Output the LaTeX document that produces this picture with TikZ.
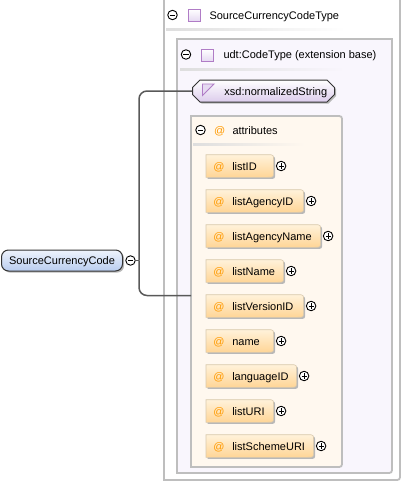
\documentclass[tikz,border=0pt]{standalone}
\usepackage{fontspec}
\setmainfont{Liberation Sans}
\usetikzlibrary{shapes.misc, shadows}

\definecolor{boxgray}{HTML}{BEBEBE}
\definecolor{lavender}{HTML}{F9F6FD}
\definecolor{cream}{HTML}{FFF8EF}
\definecolor{attrtop}{HTML}{FFF2DA}
\definecolor{attrbot}{HTML}{FFD596}
\definecolor{attrborder}{HTML}{D8C8AC}
\definecolor{atorange}{HTML}{FF9A00}
\definecolor{elemtop}{HTML}{EEF3FC}
\definecolor{elembot}{HTML}{B9CDF0}
\definecolor{typepurple}{HTML}{B07CC6}
\definecolor{typefill}{HTML}{E6DAF2}
\definecolor{xsdfill}{HTML}{DCCCEC}

\tikzset{
  every node/.style={font=\fontsize{11pt}{13pt}\selectfont},
  boxline/.style={draw=boxgray, line width=1.8pt},
  sepline/.style={left color=black!13, right color=white, draw=none},
  expander/.style={circle, draw, fill=white, line width=0.9pt, minimum size=9.5pt, inner sep=0pt},
  minusbox/.style={expander, path picture={\draw[line width=0.9pt] (path picture bounding box.center) +(-2.6pt,0) -- +(2.6pt,0);}},
  plusbox/.style={expander, path picture={\draw[line width=0.9pt] (path picture bounding box.center) +(-2.6pt,0) -- +(2.6pt,0) +(0,-2.6pt) -- +(0,2.6pt);}},
  headtext/.style={anchor=base west, inner sep=0pt},
  typeicon/.style={draw=typepurple, line width=0.9pt, top color=white, bottom color=typefill, minimum size=12pt, inner sep=0pt},
  shade off/.style={drop shadow={shadow xshift=1.6pt, shadow yshift=-1.6pt, fill=black!28, opacity=1}},
  elem/.style={rounded corners=7pt, draw=black!80, line width=1pt, top color=elemtop, bottom color=elembot,
    anchor=west, minimum width=121pt, minimum height=21pt, text height=10pt, text depth=2pt, shade off},
  simpletype/.style={chamfered rectangle, chamfered rectangle xsep=4pt, draw=black!80, line width=1pt,
    top color=white, bottom color=xsdfill, anchor=west, inner sep=0pt, minimum height=22pt,
    text height=10pt, text depth=2pt, shade off},
  attr/.style={anchor=west, inner sep=0pt, minimum height=22pt, text height=10pt, text depth=2pt},
  attrbg/.style={top color=attrtop, bottom color=attrbot, draw=attrborder, line width=0.6pt, shade off},
  conn/.style={draw=black!65, line width=1.5pt},
}

\begin{document}
\begin{tikzpicture}[x=1pt, y=-1pt]
  \useasboundingbox (0,0) rectangle (402,483);

  % complex type
  \draw[boxline, fill=white] (164,0) -- (164,480) -- (394,480) .. controls (400,480) .. (400,474) -- (400,0);
  \node[minusbox] (typemin) at (172.5,15) {};
  \node[typeicon] (typeicon) at (194,15) {};
  \node[headtext] (typename) at (209.3,19) {SourceCurrencyCodeType};
  \shade[sepline] (166,28.5) rectangle (345,30);

  % extension base
  \draw[boxline, fill=lavender] (177,39) -- (392,39) -- (392,467) .. controls (392,473) .. (386,473) -- (177,473) -- cycle;
  \node[minusbox] (basemin) at (186,54.5) {};
  \node[typeicon] (baseicon) at (207.5,55) {};
  \node[headtext] (basename) at (223.3,58.5) {udt:CodeType (extension base)};
  \shade[sepline, right color=lavender] (180,68.5) rectangle (345,70);

  \node[simpletype] (xsd) at (192,91) {\makebox[134pt][l]{\hspace*{28pt}xsd:normalizedString}};
  \draw[typepurple, fill=typefill, line width=0.9pt] (202.5,84) -- (214,84) -- (202.5,95.5) -- cycle;

  % attributes
  \draw[boxline, fill=cream] (191,116) -- (336,116) .. controls (342,116) .. (342,122) -- (342,461) .. controls (342,467) .. (336,467) -- (191,467) -- cycle;
  \coordinate (attrin) at (191,295.5);
  \node[minusbox] (attrmin) at (200.5,130) {};
  \node[headtext, text=atorange] (attrat) at (214,134) {@};
  \node[headtext] (attrname) at (232.3,134) {attributes};
  \shade[sepline, right color=cream] (193,143.5) rectangle (305,145);

  \foreach \a/\w [count=\i] in {listID/67, listAgencyID/97, listAgencyName/114, listName/77,
      listVersionID/97, name/67, languageID/90, listURI/67, listSchemeURI/107}{
    \path[attrbg] (206,{131+35*\i}) node[attr] (\a) {\makebox[\w pt][l]{\hspace*{7pt}\makebox[19pt][l]{\textcolor{atorange}{@}}\a}}
      (\a.north west) -- ([xshift=-6pt]\a.north east) .. controls (\a.north east) .. ([yshift=-6pt]\a.north east)
      -- ([yshift=6pt]\a.south east) .. controls (\a.south east) .. ([xshift=-6pt]\a.south east) -- (\a.south west) -- cycle;
    \node[plusbox] (plus\i) at ([xshift=7.5pt]\a.east) {};
  }

  % element
  \node[elem] (elem) at (1,260.5) {SourceCurrencyCode};
  \node[minusbox] (elemmin) at (130.5,260.5) {};
  \coordinate (fork) at (139,260.5);
  \draw[conn] (elemmin) -- (fork);
  \draw[conn, rounded corners=8pt] (fork) |- (xsd.west);
  \draw[conn, rounded corners=8pt] (fork) |- (attrin);
\end{tikzpicture}
\end{document}
